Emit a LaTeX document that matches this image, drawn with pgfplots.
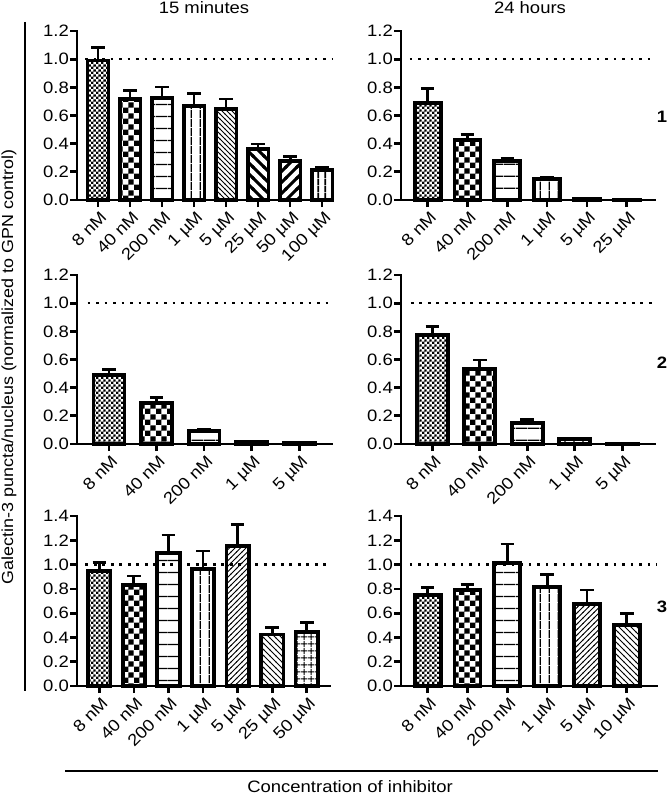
\documentclass[border=0pt]{standalone}
\usepackage{fontspec}
\setmainfont{Liberation Sans}[FakeStretch=1.12]
\usepackage{pgfplots}
\pgfplotsset{compat=1.18}
\usetikzlibrary{patterns}

% bar fill patterns
\pgfdeclarepatternformonly{fchk}{\pgfpointorigin}{\pgfqpoint{4.8pt}{4.8pt}}{\pgfqpoint{4.8pt}{4.8pt}}{%
  \pgfpathrectangle{\pgfpointorigin}{\pgfqpoint{2.4pt}{2.4pt}}%
  \pgfpathrectangle{\pgfqpoint{2.4pt}{2.4pt}}{\pgfqpoint{2.4pt}{2.4pt}}\pgfusepath{fill}}
\pgfdeclarepatternformonly{cchk}{\pgfpointorigin}{\pgfqpoint{11.2pt}{11.2pt}}{\pgfqpoint{11.2pt}{11.2pt}}{%
  \pgfpathrectangle{\pgfpointorigin}{\pgfqpoint{5.6pt}{5.6pt}}%
  \pgfpathrectangle{\pgfqpoint{5.6pt}{5.6pt}}{\pgfqpoint{5.6pt}{5.6pt}}\pgfusepath{fill}}
\pgfdeclarepatternformonly{hln}{\pgfpointorigin}{\pgfqpoint{12pt}{12pt}}{\pgfqpoint{12pt}{12pt}}{%
  \pgfsetlinewidth{1.3pt}\pgfpathmoveto{\pgfqpoint{0pt}{6pt}}\pgfpathlineto{\pgfqpoint{12pt}{6pt}}\pgfusepath{stroke}}
\pgfdeclarepatternformonly{vln}{\pgfpointorigin}{\pgfqpoint{8.5pt}{8.5pt}}{\pgfqpoint{8.5pt}{8.5pt}}{%
  \pgfsetlinewidth{1.3pt}\pgfpathmoveto{\pgfqpoint{4.25pt}{0pt}}\pgfpathlineto{\pgfqpoint{4.25pt}{8.5pt}}\pgfusepath{stroke}}
\pgfdeclarepatternformonly{vlnk}{\pgfpointorigin}{\pgfqpoint{7pt}{7pt}}{\pgfqpoint{7pt}{7pt}}{%
  \pgfsetlinewidth{2pt}\pgfpathmoveto{\pgfqpoint{3.5pt}{0pt}}\pgfpathlineto{\pgfqpoint{3.5pt}{7pt}}\pgfusepath{stroke}}
\pgfdeclarepatternformonly{grd}{\pgfpointorigin}{\pgfqpoint{7pt}{7pt}}{\pgfqpoint{7pt}{7pt}}{%
  \pgfsetlinewidth{1.2pt}\pgfpathmoveto{\pgfqpoint{3.5pt}{0pt}}\pgfpathlineto{\pgfqpoint{3.5pt}{7pt}}%
  \pgfpathmoveto{\pgfqpoint{0pt}{3.5pt}}\pgfpathlineto{\pgfqpoint{7pt}{3.5pt}}\pgfusepath{stroke}}
\pgfdeclarepatternformonly{nwf}{\pgfqpoint{-1pt}{-1pt}}{\pgfqpoint{6pt}{6pt}}{\pgfqpoint{5pt}{5pt}}{%
  \pgfsetlinewidth{0.9pt}\pgfpathmoveto{\pgfqpoint{-0.5pt}{5.5pt}}\pgfpathlineto{\pgfqpoint{5.5pt}{-0.5pt}}\pgfusepath{stroke}}
\pgfdeclarepatternformonly{nws}{\pgfqpoint{-1pt}{-1pt}}{\pgfqpoint{7pt}{7pt}}{\pgfqpoint{6pt}{6pt}}{%
  \pgfsetlinewidth{0.9pt}\pgfpathmoveto{\pgfqpoint{-0.5pt}{6.5pt}}\pgfpathlineto{\pgfqpoint{6.5pt}{-0.5pt}}\pgfusepath{stroke}}
\pgfdeclarepatternformonly{nef}{\pgfqpoint{-1pt}{-1pt}}{\pgfqpoint{6.5pt}{6.5pt}}{\pgfqpoint{5.5pt}{5.5pt}}{%
  \pgfsetlinewidth{0.9pt}\pgfpathmoveto{\pgfqpoint{-0.5pt}{-0.5pt}}\pgfpathlineto{\pgfqpoint{6pt}{6pt}}\pgfusepath{stroke}}
\pgfdeclarepatternformonly{nwk}{\pgfqpoint{-2pt}{-2pt}}{\pgfqpoint{13pt}{13pt}}{\pgfqpoint{11pt}{11pt}}{%
  \pgfsetlinewidth{3pt}\pgfpathmoveto{\pgfqpoint{-1pt}{12pt}}\pgfpathlineto{\pgfqpoint{12pt}{-1pt}}\pgfusepath{stroke}}
\pgfdeclarepatternformonly{nek}{\pgfqpoint{-2pt}{-2pt}}{\pgfqpoint{13pt}{13pt}}{\pgfqpoint{11pt}{11pt}}{%
  \pgfsetlinewidth{3pt}\pgfpathmoveto{\pgfqpoint{-1pt}{-1pt}}\pgfpathlineto{\pgfqpoint{12pt}{12pt}}\pgfusepath{stroke}}

\newcommand{\lbl}{\fontsize{16.5}{18}\selectfont}

% one bar: x, mean, sem, pattern
\newcommand{\cbar}[4]{%
  \addplot[draw=black, line width=3.8pt, pattern=#4, bar shift=0pt,
    error bars/.cd, y dir=plus, y explicit,
    error bar style={line width=2.8pt, black},
    error mark options={rotate=90, mark size=6.8pt, line width=2.8pt, black}]
    coordinates {(#1,#2) +- (0,#3)};}
% dotted control level
\newcommand{\ctrl}[2]{%
  \addplot[sharp plot, no marks, black, line width=2.6pt, dash pattern=on 2.6pt off 5.9pt]
    coordinates {(#1,1) (#2,1)};}

\pgfplotsset{
  panel/.style={
    scale only axis, ybar, bar width=0.65, ymin=0, clip=false,
    axis lines*=left, axis line style={-, line width=2.9pt, line cap=rect},
    tick align=outside, major tick length=7pt,
    major tick style={line width=2.7pt, black},
    tick label style={font=\lbl},
    /pgf/number format/assume math mode=true,
    /pgf/number format/fixed, /pgf/number format/fixed zerofill,
    /pgf/number format/precision=1,
    yticklabel style={inner sep=1pt},
    xticklabel style={rotate=45, anchor=north east, inner sep=1pt, yshift=-2pt},
  },
}

\begin{document}
\begin{tikzpicture}
\useasboundingbox (0,0) rectangle (668pt,-794pt);

% ---- row 1, 15 minutes
\begin{axis}[panel, at={(77pt,-200pt)}, anchor=south west, width=256pt, height=169pt,
  xmin=-0.656, xmax=7.34, ymax=1.2, ytick={0,0.2,0.4,0.6,0.8,1.0,1.2},
  xtick={0,...,7}, xticklabels={8 nM,40 nM,200 nM,1 µM,5 µM,25 µM,50 µM,100 µM}]
\ctrl{-0.4}{7.34}
\cbar{0}{0.99}{0.09}{fchk}
\cbar{1}{0.717}{0.06}{cchk}
\cbar{2}{0.722}{0.08}{hln}
\cbar{3}{0.67}{0.085}{vln}
\cbar{4}{0.644}{0.073}{nwf}
\cbar{5}{0.362}{0.036}{nwk}
\cbar{6}{0.275}{0.033}{nek}
\cbar{7}{0.213}{0.02}{vlnk}
\end{axis}

% ---- row 1, 24 hours
\begin{axis}[panel, at={(401pt,-200pt)}, anchor=south west, width=254pt, height=169pt,
  xmin=-0.67, xmax=5.71, ymax=1.2, ytick={0,0.2,0.4,0.6,0.8,1.0,1.2},
  xtick={0,...,5}, xticklabels={8 nM,40 nM,200 nM,1 µM,5 µM,25 µM}]
\ctrl{-0.45}{5.71}
\cbar{0}{0.689}{0.10}{fchk}
\cbar{1}{0.426}{0.038}{cchk}
\cbar{2}{0.277}{0.015}{hln}
\cbar{3}{0.151}{0.012}{vln}
\cbar{4}{0.008}{0.001}{nwf}
\cbar{5}{0.002}{0.0}{nwk}
\end{axis}

% ---- row 2, 15 minutes
\begin{axis}[panel, at={(77pt,-444pt)}, anchor=south west, width=255pt, height=169pt,
  xmin=-0.674, xmax=4.69, ymax=1.2, ytick={0,0.2,0.4,0.6,0.8,1.0,1.2},
  xtick={0,...,4}, xticklabels={8 nM,40 nM,200 nM,1 µM,5 µM}]
\ctrl{-0.45}{4.69}
\cbar{0}{0.49}{0.04}{fchk}
\cbar{1}{0.289}{0.04}{cchk}
\cbar{2}{0.092}{0.012}{hln}
\cbar{3}{0.017}{0.003}{vln}
\cbar{4}{0.009}{0.002}{nwf}
\end{axis}

% ---- row 2, 24 hours
\begin{axis}[panel, at={(401pt,-444pt)}, anchor=south west, width=254pt, height=169pt,
  xmin=-0.66, xmax=4.69, ymax=1.2, ytick={0,0.2,0.4,0.6,0.8,1.0,1.2},
  xtick={0,...,4}, xticklabels={8 nM,40 nM,200 nM,1 µM,5 µM}]
\ctrl{-0.45}{4.69}
\cbar{0}{0.775}{0.057}{fchk}
\cbar{1}{0.53}{0.067}{cchk}
\cbar{2}{0.147}{0.028}{hln}
\cbar{3}{0.033}{0.007}{vln}
\cbar{4}{0.003}{0.001}{nwf}
\end{axis}

% ---- row 3, 15 minutes
\begin{axis}[panel, at={(77pt,-686pt)}, anchor=south west, width=253pt, height=170pt,
  xmin=-0.645, xmax=6.67, ymax=1.4, ytick={0,0.2,0.4,0.6,0.8,1.0,1.2,1.4},
  xtick={0,...,6}, xticklabels={8 nM,40 nM,200 nM,1 µM,5 µM,25 µM,50 µM}]
\ctrl{-0.4}{6.67}
\cbar{0}{0.95}{0.066}{fchk}
\cbar{1}{0.832}{0.074}{cchk}
\cbar{2}{1.098}{0.145}{hln}
\cbar{3}{0.963}{0.149}{vln}
\cbar{4}{1.153}{0.178}{nef}
\cbar{5}{0.425}{0.058}{nws}
\cbar{6}{0.445}{0.079}{grd}
\end{axis}

% ---- row 3, 24 hours
\begin{axis}[panel, at={(401pt,-686pt)}, anchor=south west, width=256pt, height=170pt,
  xmin=-0.67, xmax=5.76, ymax=1.4, ytick={0,0.2,0.4,0.6,0.8,1.0,1.2,1.4},
  xtick={0,...,5}, xticklabels={8 nM,40 nM,200 nM,1 µM,5 µM,10 µM}]
\ctrl{-0.45}{5.76}
\cbar{0}{0.749}{0.061}{fchk}
\cbar{1}{0.793}{0.044}{cchk}
\cbar{2}{1.016}{0.153}{hln}
\cbar{3}{0.813}{0.104}{vln}
\cbar{4}{0.675}{0.115}{nef}
\cbar{5}{0.50}{0.098}{nws}
\end{axis}

% column titles, row numbers, shared labels
\node[anchor=base, font=\lbl] at (204pt,-14pt) {15 minutes};
\node[anchor=base, font=\lbl] at (530pt,-14pt) {24 hours};
\node[anchor=base, font=\lbl\bfseries] at (662pt,-123pt) {1};
\node[anchor=base, font=\lbl\bfseries] at (662pt,-368pt) {2};
\node[anchor=base, font=\lbl\bfseries] at (662pt,-612pt) {3};
\draw[line width=1.4pt] (25pt,-22pt) -- (25pt,-691pt);
\node[rotate=90, font=\fontsize{16}{18}\selectfont, inner sep=0pt] at (9pt,-367pt) {Galectin-3 puncta/nucleus (normalized to GPN control)};
\draw[line width=1.4pt] (65pt,-771pt) -- (658pt,-771pt);
\node[anchor=base, font=\lbl] at (350pt,-792pt) {Concentration of inhibitor};
\end{tikzpicture}
\end{document}
